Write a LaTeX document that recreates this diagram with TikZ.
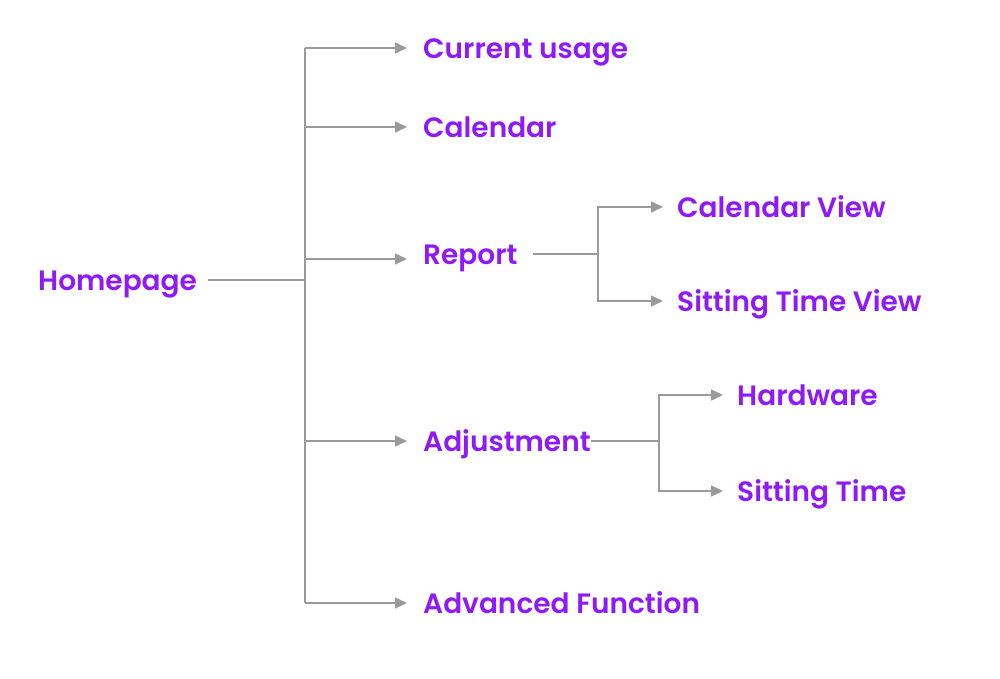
\documentclass[tikz,border=0pt]{standalone}
\usepackage{fontspec}
\setmainfont{Poppins}[UprightFont={* SemiBold}]
\usetikzlibrary{arrows.meta}
\definecolor{lbl}{HTML}{8F1AF5}
\definecolor{ln}{HTML}{9A9A9A}
\tikzset{
  lab/.style={text=lbl, font=\fontsize{28}{32}\selectfont, inner sep=0pt, text height=20pt, text depth=0pt, anchor=west},
  conn/.style={draw=ln, line width=1.6pt},
  arr/.style={conn, -{Triangle[length=12pt,width=11pt]}}
}
\begin{document}
\begin{tikzpicture}[x=1pt,y=-1pt]
\useasboundingbox (0,0) rectangle (1000,678);
\node[lab] (hp) at (38,280) {Homepage};
\node[lab] (cu) at (423,48) {Current usage};
\node[lab] (cal) at (423,127) {Calendar};
\node[lab] (rep) at (423,254) {Report};
\node[lab] (adj) at (423,441) {Adjustment};
\node[lab] (adv) at (423,603) {Advanced Function};
\node[lab] (cv) at (677,207) {Calendar View};
\node[lab] (stv) at (677,301) {Sitting Time View};
\node[lab] (hw) at (737,395) {Hardware};
\node[lab] (st) at (737,491) {Sitting Time};
\coordinate (t0) at (305,280);
\coordinate (r0) at (598,254);
\coordinate (a0) at (659,441);
\draw[conn] ([xshift=11pt]hp.east) -- (t0);
\draw[conn] (305,48) -- (305,603);
\draw[arr] (305,48) -- ([xshift=-16pt]cu.west);
\draw[arr] (305,127) -- ([xshift=-16pt]cal.west);
\draw[arr] (305,259) -- ([xshift=-16pt,yshift=-5pt]rep.west);
\draw[arr] (305,441) -- ([xshift=-16pt]adj.west);
\draw[arr] (305,603) -- ([xshift=-16pt]adv.west);
\draw[conn] ([xshift=15pt]rep.east) -- (r0);
\draw[arr] (r0) |- ([xshift=-14pt]cv.west);
\draw[arr] (r0) |- ([xshift=-14pt]stv.west);
\draw[conn] (adj.east) -- (a0);
\draw[arr] (a0) |- ([xshift=-14pt]hw.west);
\draw[arr] (a0) |- ([xshift=-14pt]st.west);
\end{tikzpicture}
\end{document}
